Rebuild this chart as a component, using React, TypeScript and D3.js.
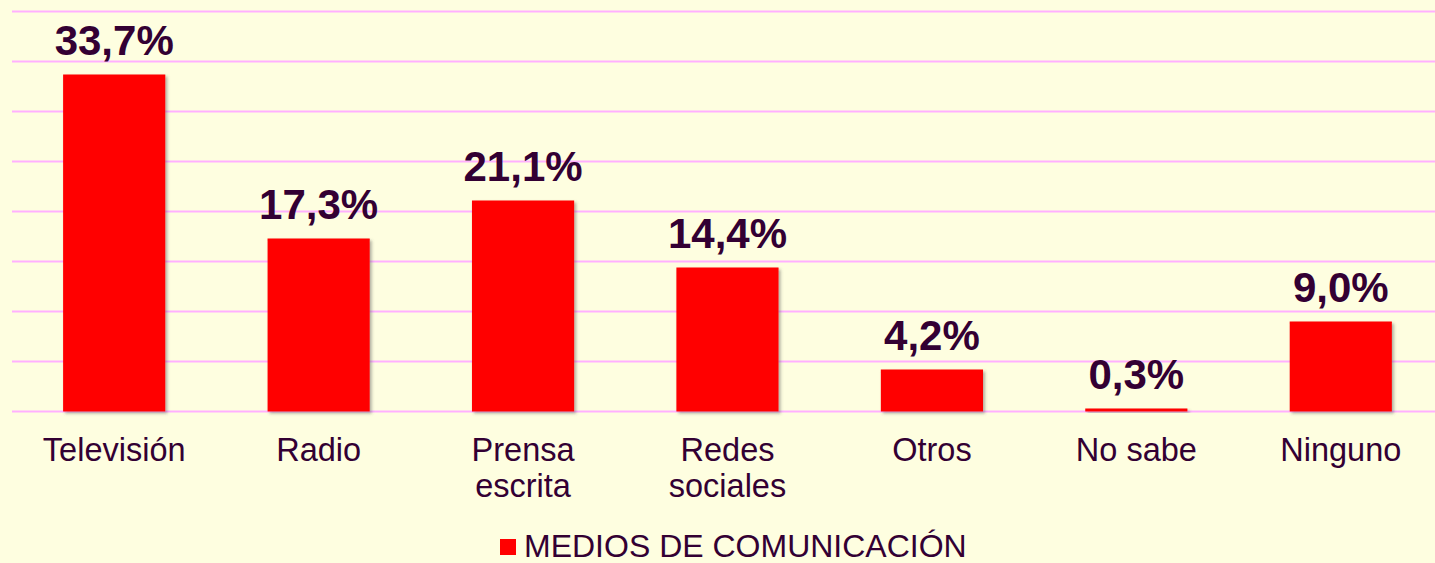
import React from "react";
import * as d3 from "d3";

const categories: string[][] = [
  ["Televisión"],
  ["Radio"],
  ["Prensa", "escrita"],
  ["Redes", "sociales"],
  ["Otros"],
  ["No sabe"],
  ["Ninguno"],
];
const values: number[] = [33.7, 17.3, 21.1, 14.4, 4.2, 0.3, 9.0];
const labels: string[] = ["33,7%", "17,3%", "21,1%", "14,4%", "4,2%", "0,3%", "9,0%"];
const yTicks: number[] = [0, 5, 10, 15, 20, 25, 30, 35, 40];
const seriesName = "MEDIOS DE COMUNICACIÓN";

const W = 1435;
const H = 563;
const FONT = "'Liberation Sans', Arial, Helvetica, sans-serif";
const TEXT = "#330033";

export default function App() {
  const keys = categories.map((c) => c.join(" "));
  const x = d3.scaleBand<string>().domain(keys).range([12, 1443]).paddingInner(0.5).paddingOuter(0.25);
  const y = d3.scaleLinear().domain([0, 40]).range([411.5, 11.5]);

  return (
    <svg width={W} height={H} style={{ position: "absolute", left: 0, top: 0, display: "block" }}>
      <defs>
        <filter id="sh" x="-10%" y="-10%" width="130%" height="130%">
          <feDropShadow dx="2" dy="2" stdDeviation="1.5" floodColor="#555" floodOpacity="0.45" />
        </filter>
      </defs>
      <rect x={0} y={0} width={W} height={H} fill="#FEFEE0" />
      {yTicks.map((t) => (
        <line key={t} x1={12} x2={W} y1={y(t)} y2={y(t)} stroke="#FFB0FF" strokeWidth={2} />
      ))}
      {values.map((v, i) => (
        <rect
          key={keys[i]}
          x={x(keys[i])!}
          width={x.bandwidth()}
          y={y(v)}
          height={y(0) - y(v)}
          fill="#FF0000"
          filter="url(#sh)"
        />
      ))}
      {values.map((v, i) => (
        <text
          key={"l" + i}
          x={x(keys[i])! + x.bandwidth() / 2}
          y={y(v) - 20}
          textAnchor="middle"
          fontFamily={FONT}
          fontWeight="bold"
          fontSize={42}
          fill={TEXT}
        >
          {labels[i]}
        </text>
      ))}
      {categories.map((c, i) => (
        <text
          key={"c" + i}
          x={x(keys[i])! + x.bandwidth() / 2}
          y={461}
          textAnchor="middle"
          fontFamily={FONT}
          fontSize={32.5}
          fill={TEXT}
        >
          {c.map((line, j) => (
            <tspan key={j} x={x(keys[i])! + x.bandwidth() / 2} dy={j === 0 ? 0 : 36}>
              {line}
            </tspan>
          ))}
        </text>
      ))}
      <rect x={500} y={539} width={16} height={16} fill="#FF0000" />
      <text x={524} y={557} fontFamily={FONT} fontSize={32} fill={TEXT}>
        {seriesName}
      </text>
    </svg>
  );
}
